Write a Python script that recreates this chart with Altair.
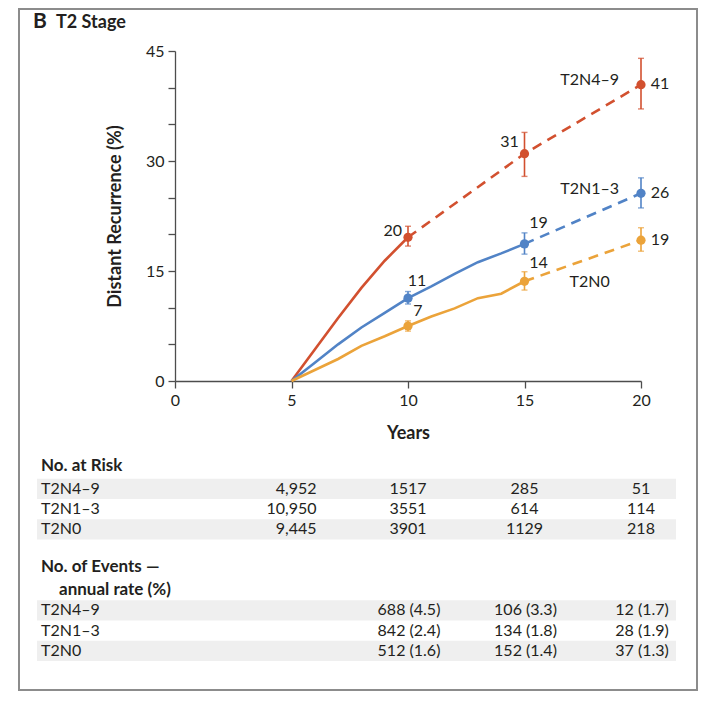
import altair as alt
import pandas as pd

# ---------------- data ----------------
series = ["T2N4–9", "T2N1–3", "T2N0"]
colors = ["#D2502F", "#5183C6", "#EBA33A"]

# observed cumulative curves (solid)
red_years = [5, 6, 7, 8, 9, 10]
red_vals = [0, 4.3, 8.6, 12.7, 16.4, 19.6]
blue_years = [5, 6, 7, 8, 9, 10, 11, 12, 13, 14, 15]
blue_vals = [0, 2.5, 5.0, 7.3, 9.3, 11.3, 12.9, 14.6, 16.2, 17.4, 18.7]
orange_years = [5, 6, 7, 8, 9, 10, 11, 12, 13, 14, 15]
orange_vals = [0, 1.5, 3.0, 4.8, 6.1, 7.5, 8.8, 9.9, 11.3, 11.9, 13.6]

# point estimates with 95% CI
est_years = [10, 15, 20]
red_est = [19.6, 31.0, 40.4]
red_lo = [18.4, 27.9, 37.1]
red_hi = [21.1, 33.9, 44.0]
blue_est = [11.3, 18.7, 25.6]
blue_lo = [10.5, 17.3, 23.6]
blue_hi = [12.2, 20.2, 27.7]
orange_est = [7.5, 13.6, 19.2]
orange_lo = [6.8, 12.4, 17.7]
orange_hi = [8.2, 14.9, 20.9]
red_labels = ["20", "31", "41"]
blue_labels = ["11", "19", "26"]
orange_labels = ["7", "14", "19"]

# dashed (extrapolated) segments start year per series
dash_start = [10, 15, 15]

# table
risk_years = [5, 10, 15, 20]
risk_n = [["4,952", "1517", "285", "51"],
          ["10,950", "3551", "614", "114"],
          ["9,445", "3901", "1129", "218"]]
event_years = [10, 15, 20]
events = [["688 (4.5)", "106 (3.3)", "12 (1.7)"],
          ["842 (2.4)", "134 (1.8)", "28 (1.9)"],
          ["512 (1.6)", "152 (1.4)", "37 (1.3)"]]

# ---------------- frames ----------------
curves = pd.concat([
    pd.DataFrame({"series": series[0], "year": red_years, "value": red_vals}),
    pd.DataFrame({"series": series[1], "year": blue_years, "value": blue_vals}),
    pd.DataFrame({"series": series[2], "year": orange_years, "value": orange_vals}),
])
est = pd.concat([
    pd.DataFrame({"series": series[0], "year": est_years, "value": red_est, "lo": red_lo, "hi": red_hi, "label": red_labels}),
    pd.DataFrame({"series": series[1], "year": est_years, "value": blue_est, "lo": blue_lo, "hi": blue_hi, "label": blue_labels}),
    pd.DataFrame({"series": series[2], "year": est_years, "value": orange_est, "lo": orange_lo, "hi": orange_hi, "label": orange_labels}),
])
dash = pd.concat([est[(est.series == s) & (est.year >= d)] for s, d in zip(series, dash_start)])

FONT = "Lato"
TXT = "#231f20"
XS = alt.Scale(domain=[0, 20], nice=False)
YS = alt.Scale(domain=[0, 45], nice=False)
XAX = alt.Axis(title="Years", values=[0, 5, 10, 15, 20], tickSize=7, labelPadding=4,
               titlePadding=16, grid=False, labelFlush=False)
YAX = alt.Axis(title="Distant Recurrence (%)", values=list(range(0, 46, 5)), tickSize=7,
               labelPadding=4, titlePadding=21, grid=False,
               labelExpr="datum.value % 15 === 0 ? datum.label : ''")
X = alt.X("year:Q", scale=XS, axis=XAX)
COL = alt.Color("series:N", scale=alt.Scale(domain=series, range=colors), legend=None)

solid = alt.Chart(curves).mark_line(strokeWidth=2.6).encode(
    x=X, y=alt.Y("value:Q", scale=YS, axis=YAX), color=COL, detail="series:N")
dashed = alt.Chart(dash).mark_line(strokeWidth=2.6, strokeDash=[10, 7]).encode(
    x=X, y=alt.Y("value:Q", scale=YS, axis=YAX), color=COL, detail="series:N")
bars = alt.Chart(est).mark_rule(strokeWidth=1.6).encode(
    x=X, y=alt.Y("lo:Q", scale=YS, axis=YAX), y2="hi:Q", color=COL)
cap_lo = alt.Chart(est).mark_tick(orient="horizontal", size=6, thickness=1.4).encode(
    x=X, y=alt.Y("lo:Q", scale=YS, axis=YAX), color=COL)
cap_hi = alt.Chart(est).mark_tick(orient="horizontal", size=6, thickness=1.4).encode(
    x=X, y=alt.Y("hi:Q", scale=YS, axis=YAX), color=COL)
pts = alt.Chart(est).mark_point(filled=True, size=85, opacity=1).encode(
    x=X, y=alt.Y("value:Q", scale=YS, axis=YAX), color=COL)

# value label offsets (style)
label_style = {
    (series[0], 10): dict(align="right", dx=-6, dy=-6),
    (series[0], 15): dict(align="center", dx=-15, dy=-12),
    (series[0], 20): dict(align="center", dx=19, dy=-1),
    (series[1], 10): dict(align="center", dx=9, dy=-17),
    (series[1], 15): dict(align="center", dx=14, dy=-21),
    (series[1], 20): dict(align="center", dx=19, dy=0),
    (series[2], 10): dict(align="center", dx=10, dy=-15),
    (series[2], 15): dict(align="center", dx=14, dy=-18),
    (series[2], 20): dict(align="center", dx=19, dy=0),
}
val_labels = []
for (s, yr), st in label_style.items():
    val_labels.append(
        alt.Chart(est).transform_filter(
            (alt.datum.series == s) & (alt.datum.year == yr)
        ).mark_text(font=FONT, fontSize=16, color=TXT, baseline="middle", **st).encode(
            x=X, y=alt.Y("value:Q", scale=YS, axis=YAX), text="label:N"))

# series name labels
name_style = {
    series[0]: (20, dict(align="right", dx=-22, dy=-5)),
    series[1]: (20, dict(align="right", dx=-22, dy=-4)),
    series[2]: (15, dict(align="left", dx=45, dy=1)),
}
name_labels = []
for s, (yr, st) in name_style.items():
    name_labels.append(
        alt.Chart(est).transform_filter(
            (alt.datum.series == s) & (alt.datum.year == yr)
        ).mark_text(font=FONT, fontSize=16, color=TXT, baseline="middle", **st).encode(
            x=X, y=alt.Y("value:Q", scale=YS, axis=YAX), text="series:N"))

plot = alt.layer(solid, dashed, bars, cap_lo, cap_hi, pts, *val_labels, *name_labels)

# ---------------- table ----------------
row_keys = ["h1", "r1", "r2", "r3", "gap", "h2a", "h2b", "e1", "e2", "e3"]
TY = alt.Y("row:N", scale=alt.Scale(type="band", domain=row_keys, range=[407.6, 610.1],
                                    paddingInner=0, paddingOuter=0), axis=None)

stripe_df = pd.DataFrame({"row": ["r1", "r3", "e1", "e3"]})
stripes = alt.Chart(stripe_df).mark_rect(color="#efefef").encode(
    x=alt.value(-138), x2=alt.value(501), y=TY)

rowlab_df = pd.DataFrame({"row": ["r1", "r2", "r3", "e1", "e2", "e3"],
                          "name": series + series})
rowlabs = alt.Chart(rowlab_df).mark_text(font=FONT, fontSize=16, color=TXT, align="left",
                                         baseline="middle").encode(
    x=alt.value(-134), y=TY, text="name:N")

hdr_df = pd.DataFrame({"row": ["h1", "h2a"], "name": ["No. at Risk", "No. of Events —"]})
hdrs = alt.Chart(hdr_df).mark_text(font=FONT, fontSize=17, fontWeight="bold", color=TXT,
                                   align="left", baseline="middle", dy=-3).encode(
    x=alt.value(-134), y=TY, text="name:N")
hdr2 = alt.Chart(pd.DataFrame({"row": ["h2b"], "name": ["annual rate (%)"]})).mark_text(
    font=FONT, fontSize=17, fontWeight="bold", color=TXT, align="left", baseline="middle").encode(
    x=alt.value(-116), y=TY, text="name:N")

risk_df = pd.DataFrame([{"row": f"r{i+1}", "year": y, "txt": risk_n[i][j]}
                        for i in range(3) for j, y in enumerate(risk_years)])
risk_first = alt.Chart(risk_df).transform_filter(alt.datum.year == 5).mark_text(
    font=FONT, fontSize=16, color=TXT, align="right", baseline="middle", dx=25).encode(
    x=X, y=TY, text="txt:N")
risk_rest = alt.Chart(risk_df).transform_filter(alt.datum.year > 5).mark_text(
    font=FONT, fontSize=16, color=TXT, align="center", baseline="middle").encode(
    x=X, y=TY, text="txt:N")
ev_df = pd.DataFrame([{"row": f"e{i+1}", "year": y, "txt": events[i][j]}
                      for i in range(3) for j, y in enumerate(event_years)])
ev_txt = alt.Chart(ev_df).mark_text(font=FONT, fontSize=16, color=TXT, align="center",
                                    baseline="middle", dx=1).encode(
    x=X, y=TY, text="txt:N")

table = alt.layer(stripes, rowlabs, hdrs, hdr2, risk_first, risk_rest, ev_txt)

# ---------------- decorations ----------------
deco_df = pd.DataFrame({"k": [0]})
frame = alt.Chart(deco_df).mark_rect(fill=None, stroke="#8c8c8c", strokeWidth=2).encode(
    x=alt.value(-156), x2=alt.value(522), y=alt.value(-42), y2=alt.value(639))
panel = alt.Chart(deco_df).mark_text(font=FONT, fontSize=21, fontWeight="bold", color=TXT,
                                     align="left", baseline="middle", text="B").encode(
    x=alt.value(-142), y=alt.value(-29))
title = alt.Chart(deco_df).mark_text(font=FONT, fontSize=18, fontWeight="bold", color=TXT,
                                     align="left", baseline="middle", text="T2 Stage").encode(
    x=alt.value(-119), y=alt.value(-28))

chart = alt.layer(plot, table, frame, panel, title).resolve_scale(y="independent").properties(
    width=466, height=330,
    autosize=alt.AutoSizeParams(type="none"),
    padding={"left": 167, "top": 43, "right": 67, "bottom": 310},
).configure_view(stroke=None).configure_axis(
    labelFont=FONT, titleFont=FONT, labelFontSize=16, titleFontSize=18,
    labelColor=TXT, titleColor=TXT, titleFontWeight="bold",
    domainColor="#4d4d4d", tickColor="#4d4d4d", domainWidth=1.3, tickWidth=1.3,
)

chart.save("out.html", embed_options={"renderer": "svg", "actions": False})
